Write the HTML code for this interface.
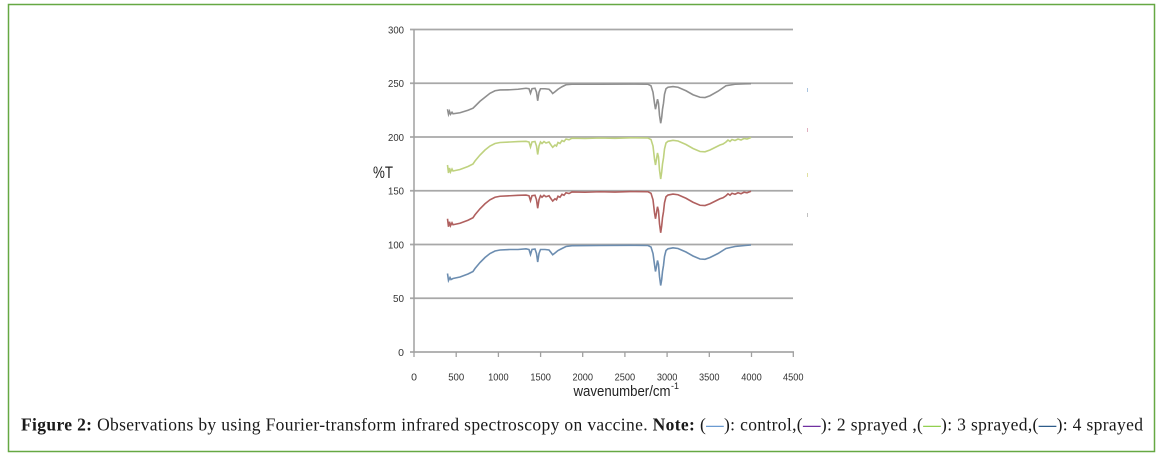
<!DOCTYPE html>
<html>
<head>
<meta charset="utf-8">
<style>
  html,body{margin:0;padding:0;background:#fff;}
  svg{display:block;}
</style>
</head>
<body>
<svg width="1162" height="457" viewBox="0 0 1162 457" xmlns="http://www.w3.org/2000/svg">
  <rect x="0" y="0" width="1162" height="457" fill="#ffffff"/>
  <!-- frame -->
  <rect x="8.5" y="4.5" width="1146" height="447" fill="none" stroke="#66a843" stroke-width="1.5"/>

  <!-- gridlines -->
  <g stroke="#a8a8a8" stroke-width="1.8">
    <line x1="410" y1="29.5" x2="793" y2="29.5"/>
    <line x1="410" y1="83.25" x2="793" y2="83.25"/>
    <line x1="410" y1="137" x2="793" y2="137"/>
    <line x1="410" y1="190.75" x2="793" y2="190.75"/>
    <line x1="410" y1="244.5" x2="793" y2="244.5"/>
    <line x1="410" y1="298.25" x2="793" y2="298.25"/>
    <line x1="410" y1="352" x2="794" y2="352"/>
  </g>
  <!-- y axis -->
  <line x1="414" y1="29.5" x2="414" y2="352" stroke="#a0a0a0" stroke-width="1.5"/>
  <!-- x ticks -->
  <g stroke="#a0a0a0" stroke-width="1.3">
    <line x1="414" y1="352" x2="414" y2="357"/>
    <line x1="456.2" y1="352" x2="456.2" y2="357"/>
    <line x1="498.4" y1="352" x2="498.4" y2="357"/>
    <line x1="540.6" y1="352" x2="540.6" y2="357"/>
    <line x1="582.7" y1="352" x2="582.7" y2="357"/>
    <line x1="624.9" y1="352" x2="624.9" y2="357"/>
    <line x1="667.1" y1="352" x2="667.1" y2="357"/>
    <line x1="709.3" y1="352" x2="709.3" y2="357"/>
    <line x1="751.5" y1="352" x2="751.5" y2="357"/>
    <line x1="793.3" y1="352" x2="793.3" y2="357"/>
  </g>

  <!-- y tick labels -->
  <g font-family="Liberation Sans, sans-serif" font-size="10.5" fill="#333" text-anchor="end">
    <text x="404" y="33.3" textLength="16" lengthAdjust="spacingAndGlyphs">300</text>
    <text x="404" y="87" textLength="16" lengthAdjust="spacingAndGlyphs">250</text>
    <text x="404" y="140.8" textLength="16" lengthAdjust="spacingAndGlyphs">200</text>
    <text x="404" y="194.5" textLength="16" lengthAdjust="spacingAndGlyphs">150</text>
    <text x="404" y="248.3" textLength="16" lengthAdjust="spacingAndGlyphs">100</text>
    <text x="404" y="302" textLength="11" lengthAdjust="spacingAndGlyphs">50</text>
    <text x="404" y="355.8">0</text>
  </g>
  <!-- x tick labels -->
  <g font-family="Liberation Sans, sans-serif" font-size="10.5" fill="#333" text-anchor="middle">
    <text x="414" y="380.5">0</text>
    <text x="456.2" y="380.5" textLength="16" lengthAdjust="spacingAndGlyphs">500</text>
    <text x="498.4" y="380.5" textLength="20.5" lengthAdjust="spacingAndGlyphs">1000</text>
    <text x="540.6" y="380.5" textLength="20.5" lengthAdjust="spacingAndGlyphs">1500</text>
    <text x="582.7" y="380.5" textLength="20.5" lengthAdjust="spacingAndGlyphs">2000</text>
    <text x="624.9" y="380.5" textLength="20.5" lengthAdjust="spacingAndGlyphs">2500</text>
    <text x="667.1" y="380.5" textLength="20.5" lengthAdjust="spacingAndGlyphs">3000</text>
    <text x="709.3" y="380.5" textLength="20.5" lengthAdjust="spacingAndGlyphs">3500</text>
    <text x="751.5" y="380.5" textLength="20.5" lengthAdjust="spacingAndGlyphs">4000</text>
    <text x="793.3" y="380.5" textLength="20.5" lengthAdjust="spacingAndGlyphs">4500</text>
  </g>

  <!-- axis titles -->
  <text x="573.5" y="396" font-family="Liberation Sans, sans-serif" font-size="15" fill="#222" textLength="97" lengthAdjust="spacingAndGlyphs">wavenumber/cm</text>
  <text x="671" y="389" font-family="Liberation Sans, sans-serif" font-size="9" fill="#222">-1</text>
  <text x="373" y="178" font-family="Liberation Sans, sans-serif" font-size="17" fill="#222" textLength="20" lengthAdjust="spacingAndGlyphs">%T</text>

  <defs>
    <path id="smooth" fill="none" d="M447.5,29 L448.5,36 L450,33 L451,35 L453,34 L460,32.5 L468,29.5 L473,27 L475,24 L480,18 L485,13 L490,9 L495,6.5 L500,5.5 L510,5 L518,5 L526,4.3 L529,5 L530.5,10 L532,5 L535,4.5 L536.5,9 L537.7,17.5 L539,9 L540.5,5 L545,5 L549,5.5 L551,8 L552.7,10.3 L555,8.5 L558,6 L562,4 L566,2 L572,1.2 L600,1 L630,0.8 L648,1 L651,2.5 L653,9 L654.5,20 L655.5,27 L656.5,22 L657.5,16 L658.5,20 L659.5,32 L660.7,41 L661.7,35 L662.5,27 L663.5,21 L664.5,12 L666,6 L668,4.3 L673,3.3 L678,4 L686,7.5 L693,11.5 L700,14.5 L705,14.8 L710,13 L718,9 L726,4 L735,2 L745,1 L751,0.5"/>
    <path id="noisy" fill="none" d="M447.5,28 L448.5,36 L449.5,31 L450.5,35 L452,32 L453,34 L460,32.5 L468,29.5 L473,27 L475,24 L480,18 L485,13 L490,9 L495,6.5 L500,5.5 L510,5 L518,4.6 L526,4.3 L529,5 L530.5,10 L532,5 L535,4.5 L536.5,9 L537.7,17.5 L539,9 L540.5,5 L542,6.5 L544,4.5 L546,6 L549,5 L551,8 L552.7,10.3 L555,8 L556.5,9 L558,5.5 L560,6.5 L562,3.5 L564,4.5 L566,2 L569,2.8 L572,1.2 L585,1.5 L600,1 L615,1.3 L630,0.8 L648,1 L651,2.5 L653,9 L654.5,22 L655.5,28 L656.5,22 L657.5,16 L658.5,20 L659.5,33 L660.7,42 L661.7,35 L662.5,27 L663.5,21 L664.5,12 L666,6 L668,4.3 L673,3.3 L678,4 L686,7.5 L693,11.5 L700,14.5 L705,14.8 L710,13 L716,10 L720,8 L723,7 L726,5 L728,3 L730,4.5 L732,2.5 L735,3.5 L738,2 L741,3 L744,1.5 L747,2 L751,0.5"/>
  </defs>

  <!-- series -->
  <path fill="none" stroke="#8f8f8f" stroke-width="1.6" transform="translate(0,83.25)" d="M447.5,26 L448.5,31 L449.5,28 L450.5,31 L452,29 L453,30.5 L460,29.5 L468,27 L473,25 L475,23 L480,18 L485,14 L490,10 L495,7.5 L500,6.7 L510,6.5 L518,6 L526,5 L529,5.5 L530.5,10 L532,5.5 L535,5 L536.5,9 L537.7,17.5 L539,9 L540.5,5.5 L545,5.5 L549,6 L551,8 L552.7,10.3 L555,8.5 L558,6 L562,3.5 L566,1.5 L572,1 L600,1 L630,0.8 L648,1 L651,2.5 L653,9 L654.5,20 L655.5,26 L656.5,21 L657.5,16 L658.5,20 L659.5,32 L660.7,40 L661.7,34 L662.5,26 L663.5,20 L664.5,11 L666,5.5 L668,4 L673,3.3 L678,4 L686,7.5 L693,11.5 L700,14 L705,14.3 L710,12.5 L718,8 L726,2.5 L735,1 L745,0.6 L751,0.5"/>
  <use href="#noisy" stroke="#bfd27f" stroke-width="1.6" transform="translate(0,137)"/>
  <use href="#noisy" stroke="#b0605f" stroke-width="1.6" transform="translate(0,190.75)"/>
  <use href="#smooth" stroke="#6c8db0" stroke-width="1.6" transform="translate(0,244.5)"/>

  <!-- faint legend remnants -->
  <g stroke-width="1">
    <line x1="807.5" y1="88" x2="807.5" y2="92" stroke="#a9c4e0"/>
    <line x1="807.5" y1="128" x2="807.5" y2="132" stroke="#e0b0c0"/>
    <line x1="807.5" y1="173" x2="807.5" y2="177" stroke="#e0e0a0"/>
    <line x1="807.5" y1="213" x2="807.5" y2="217" stroke="#c0c0c0"/>
  </g>

  <!-- caption -->
  <text x="21" y="430.5" font-family="Liberation Serif, serif" font-size="17.5" fill="#1a1a1a" textLength="1122" lengthAdjust="spacing"><tspan font-weight="bold">Figure 2:</tspan> Observations by using Fourier-transform infrared spectroscopy on vaccine. <tspan font-weight="bold">Note:</tspan> (<tspan fill="#6b9bd1" font-weight="bold">—</tspan>): control,(<tspan fill="#7030a0" font-weight="bold">—</tspan>): 2 sprayed ,(<tspan fill="#92d050" font-weight="bold">—</tspan>): 3 sprayed,(<tspan fill="#2e5c8a" font-weight="bold">—</tspan>): 4 sprayed</text>
</svg>
</body>
</html>
